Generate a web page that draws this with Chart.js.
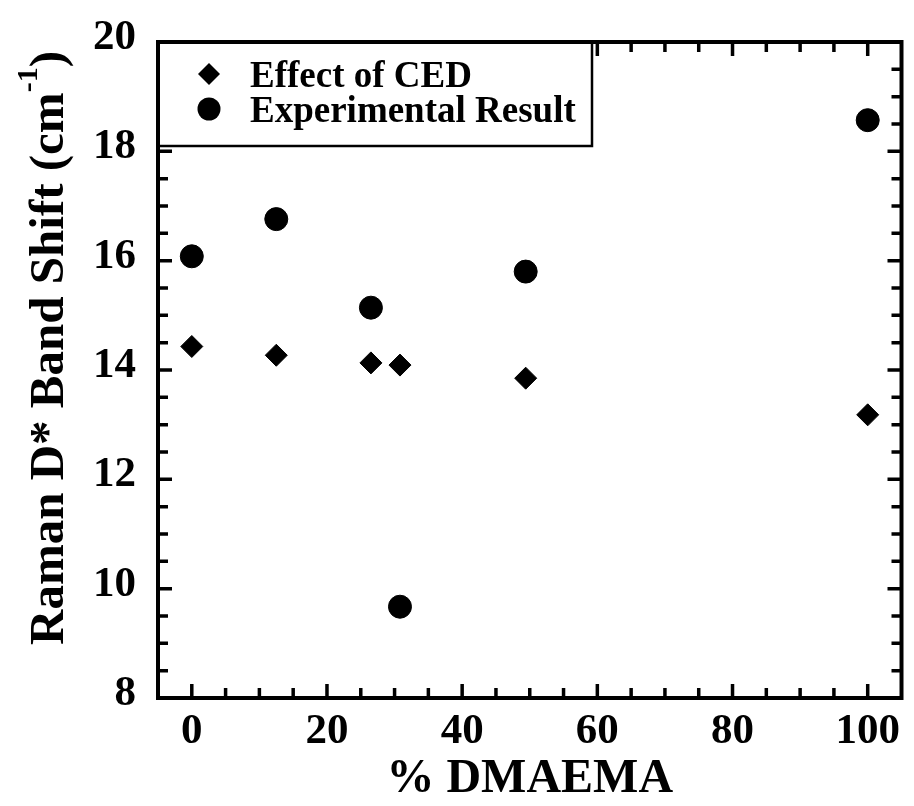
<!DOCTYPE html>
<html>
<head>
<meta charset="utf-8">
<title>Raman D* band shift vs DMAEMA</title>
<script src="https://cdn.jsdelivr.net/npm/chart.js@4/dist/chart.umd.min.js"></script>
<style>
  html, body { margin: 0; padding: 0; background: #fff; }
  #wrap { width: 914px; height: 806px; }
</style>
</head>
<body>
<div id="wrap"><canvas id="shiftChart" width="914" height="806"></canvas></div>
<script>
// % DMAEMA in the copolymer
const dmaemaPct = [0, 12.5, 26.5, 30.8, 49.4, 100];
// band shift, cm^-1
const cedShift = [14.43, 14.27, 14.13, 14.09, 13.85, 13.18];
const expShift = [16.08, 16.76, 15.14, 9.67, 15.80, 18.57];

const seriesLabels = ['Effect of CED', 'Experimental Result'];
const xTicks = [0, 20, 40, 60, 80, 100];
const yTicks = [8, 10, 12, 14, 16, 18, 20];
const xTitle = '% DMAEMA';
const yTitle = 'Raman D* Band Shift (cm';
const yTitleSup = '-1';

const SERIF = '"Liberation Serif", "Times New Roman", serif';

const toPoints = ys => dmaemaPct.map((x, i) => ({ x: x, y: ys[i] }));

// draws a marker; uses Chart.helpers when it is there
function marker(ctx, style, r, x, y) {
    if (Chart.helpers && Chart.helpers.drawPoint) {
        Chart.helpers.drawPoint(ctx, { pointStyle: style, radius: r, borderWidth: 0, rotation: 0 }, x, y);
        return;
    }
    ctx.beginPath();
    if (style === 'circle') {
        ctx.arc(x, y, r, 0, Math.PI * 2);
    } else {
        ctx.moveTo(x, y - r); ctx.lineTo(x + r, y); ctx.lineTo(x, y + r); ctx.lineTo(x - r, y);
        ctx.closePath();
    }
    ctx.fill();
}

// inward ticks on all four sides, legend box, frame, y title
const framePlugin = {
    id: 'framePlugin',
    afterDraw(chart) {
        const { ctx, chartArea: a } = chart;
        const xs = chart.scales.x, ys = chart.scales.y;
        ctx.save();
        ctx.strokeStyle = '#000';
        ctx.lineWidth = 3.5;
        ctx.lineCap = 'butt';

        ctx.beginPath();
        for (let v = xs.min + 5; v < xs.max; v += 5) {
            const px = xs.getPixelForValue(v);
            const len = xTicks.includes(v) ? 14 : 10;
            ctx.moveTo(px, a.bottom); ctx.lineTo(px, a.bottom - len);
            ctx.moveTo(px, a.top); ctx.lineTo(px, a.top + len);
        }
        for (let v = ys.min + 0.5; v < ys.max; v += 0.5) {
            const py = ys.getPixelForValue(v);
            const len = yTicks.includes(v) ? 14 : 10;
            ctx.moveTo(a.left, py); ctx.lineTo(a.left + len, py);
            ctx.moveTo(a.right, py); ctx.lineTo(a.right - len, py);
        }
        ctx.stroke();

        // legend
        const lw = 434, lh = 104;
        ctx.fillStyle = '#fff';
        ctx.fillRect(a.left, a.top, lw, lh);
        ctx.lineWidth = 2.5;
        ctx.strokeRect(a.left, a.top, lw, lh);
        ctx.fillStyle = '#000';
        ctx.font = 'bold 37px ' + SERIF;
        ctx.textAlign = 'left';
        ctx.textBaseline = 'alphabetic';
        chart.data.datasets.forEach((ds, i) => {
            const my = a.top + 32 + i * 35;
            marker(ctx, ds.pointStyle, ds.pointRadius, a.left + 51, my);
            ctx.fillText(ds.label, a.left + 92, my + 13);
        });

        // frame
        ctx.lineWidth = 4;
        ctx.strokeRect(a.left, a.top, a.right - a.left, a.bottom - a.top);

        // y title with superscript
        const mainFont = 'bold 49px ' + SERIF;
        const supFont = 'bold 30px ' + SERIF;
        ctx.font = mainFont;
        const w1 = ctx.measureText(yTitle).width;
        const w3 = ctx.measureText(')').width;
        ctx.font = supFont;
        const w2 = ctx.measureText(yTitleSup).width;
        const total = w1 + w2 + w3;
        ctx.translate(63, 348);
        ctx.rotate(-Math.PI / 2);
        let tx = -total / 2;
        ctx.font = mainFont;
        ctx.fillText(yTitle, tx, 0);
        tx += w1;
        ctx.font = supFont;
        ctx.fillText(yTitleSup, tx, -26);
        tx += w2;
        ctx.font = mainFont;
        ctx.fillText(')', tx, 0);
        ctx.restore();
    }
};

const tickFont = { family: SERIF, size: 43, weight: 'bold' };

new Chart(document.getElementById('shiftChart'), {
    type: 'scatter',
    data: {
        datasets: [
            {
                label: seriesLabels[0],
                data: toPoints(cedShift),
                pointStyle: 'rectRot',
                pointRadius: 11,
                backgroundColor: '#000',
                borderColor: '#000',
                pointBorderWidth: 1
            },
            {
                label: seriesLabels[1],
                data: toPoints(expShift),
                pointStyle: 'circle',
                pointRadius: 11.5,
                backgroundColor: '#000',
                borderColor: '#000',
                pointBorderWidth: 1
            }
        ]
    },
    options: {
        responsive: false,
        animation: false,
        devicePixelRatio: 1,
        layout: { padding: { top: 42, right: 9, left: 0, bottom: 0 } },
        plugins: {
            legend: { display: false },
            tooltip: { enabled: false }
        },
        scales: {
            x: {
                type: 'linear',
                min: -5,
                max: 105,
                afterBuildTicks: s => { s.ticks = xTicks.map(v => ({ value: v })); },
                afterFit: s => { s.height = 108; s.paddingLeft = 0; s.paddingRight = 0; },
                grid: { display: false, drawTicks: false },
                border: { display: false },
                ticks: { font: tickFont, color: '#000', padding: 8 },
                title: {
                    display: true,
                    text: xTitle,
                    color: '#000',
                    font: { family: SERIF, size: 48, weight: 'bold', lineHeight: 1 },
                    padding: { top: 0, bottom: 2 }
                }
            },
            y: {
                min: 8,
                max: 20,
                afterBuildTicks: s => { s.ticks = yTicks.map(v => ({ value: v })); },
                afterFit: s => { s.width = 158; s.paddingTop = 0; s.paddingBottom = 0; },
                grid: { display: false, drawTicks: false },
                border: { display: false },
                ticks: { font: tickFont, color: '#000', padding: 22, labelOffset: -4 }
            }
        }
    },
    plugins: [framePlugin]
});
</script>
</body>
</html>
